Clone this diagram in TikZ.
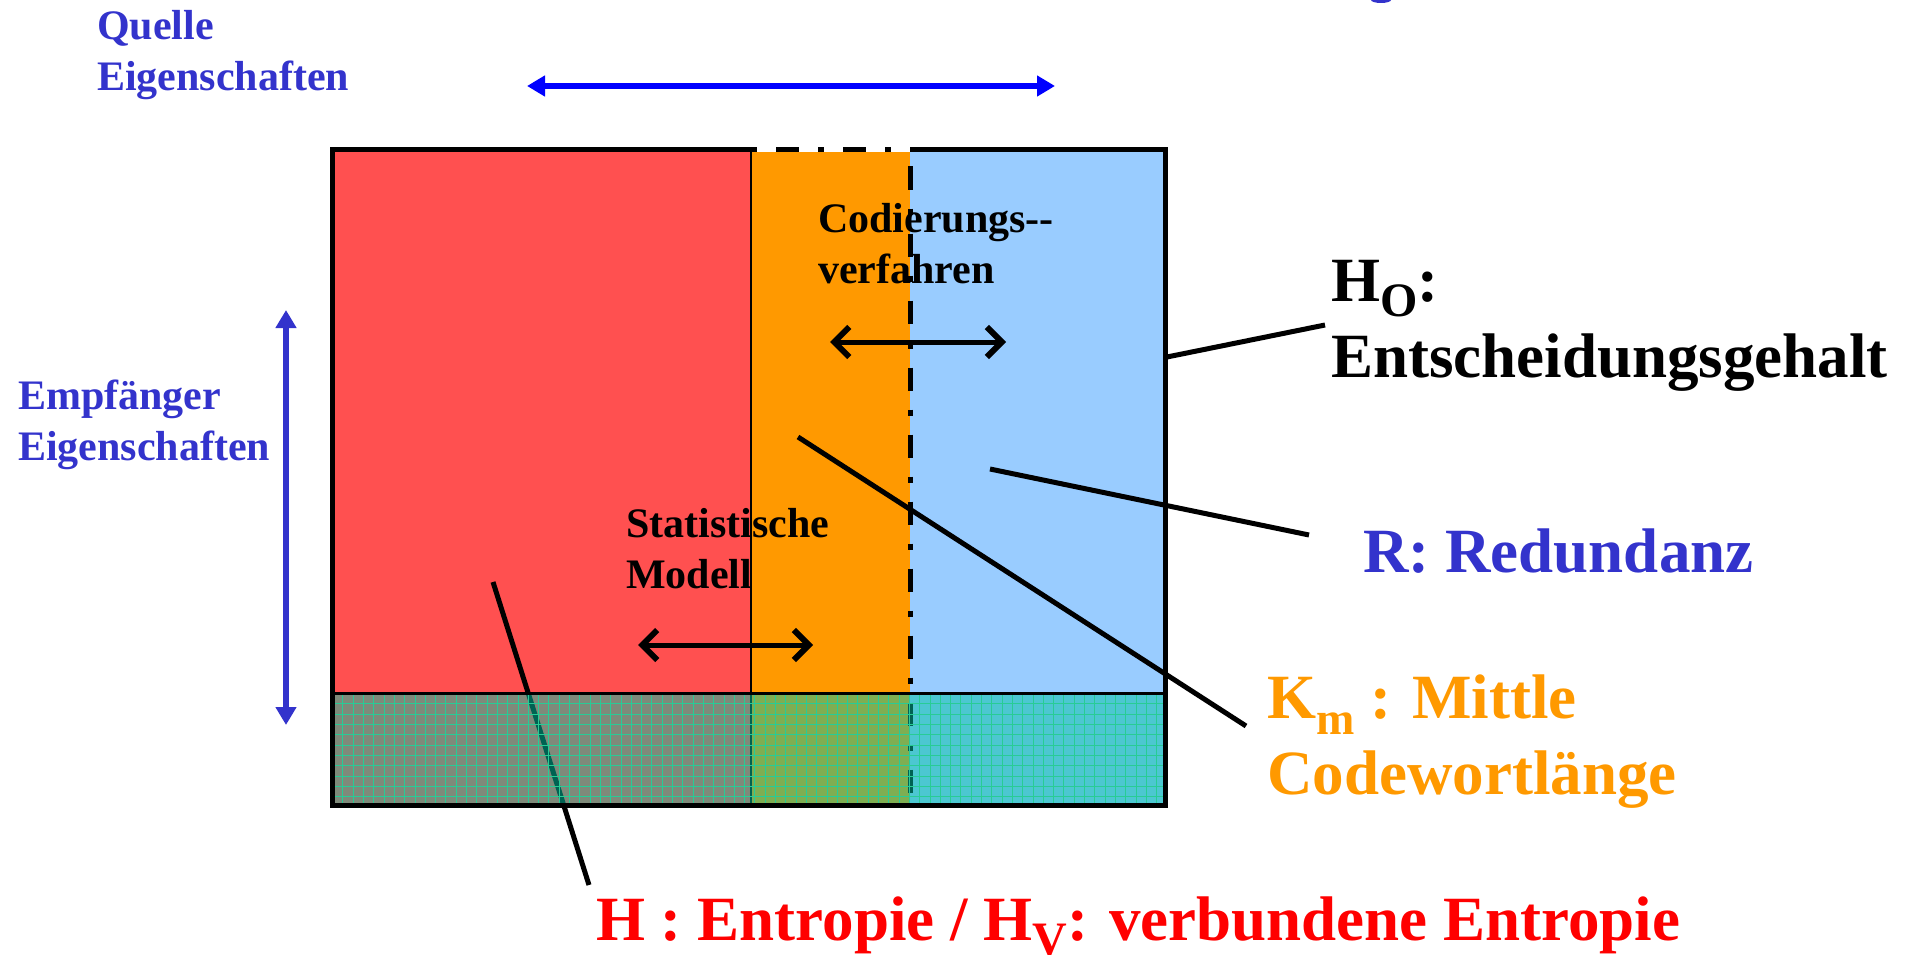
\documentclass[tikz,border=0pt]{standalone}
\usepackage{fontspec}
\setmainfont{Liberation Serif}
\usetikzlibrary{arrows.meta}
\definecolor{cred}{RGB}{255,80,80}
\definecolor{corange}{RGB}{255,153,0}
\definecolor{cblue}{RGB}{153,204,255}
\definecolor{cteal}{RGB}{0,196,165}
\definecolor{cgrid}{RGB}{40,204,150}
\definecolor{lblue}{RGB}{51,51,204}
\definecolor{pblue}{RGB}{0,0,255}
\definecolor{tred}{RGB}{255,0,0}
\definecolor{torange}{RGB}{255,153,0}
\begin{document}
\begin{tikzpicture}[x=1pt,y=-1pt,
  smalltext/.style={font=\fontsize{42}{51}\selectfont\bfseries, inner sep=0pt, anchor=base west, align=left},
  bigtext/.style={font=\fontsize{63}{76}\selectfont\bfseries, inner sep=0pt, anchor=base west, align=left},
  pointer/.style={line width=5pt, black},
  dblarrow/.style={line width=5pt, black, {Straight Barb[length=15pt,width=30pt,line width=6pt]}-{Straight Barb[length=15pt,width=30pt,line width=6pt]}},
  bluearrow/.style={line width=5.5pt, {Triangle[length=18pt,width=20pt]}-{Triangle[length=18pt,width=20pt]}},
  gridline/.style={cgrid, line width=0.8pt},
  dashdot/.style={line width=5pt, black, dash pattern=on 6pt off 19pt on 23pt off 19pt, dash phase=8pt}
]
\useasboundingbox (0,0) rectangle (1917,955);
% tiny cut-off glyph at top edge
\fill[lblue] (1381,0) ellipse (10 and 3);

% coloured areas
\fill[cred] (332.5,149.5) rectangle (751,805);
\fill[corange] (751,149.5) rectangle (910,805);
\fill[cblue] (910,149.5) rectangle (1165,805);

% dividers
\draw[line width=2.5pt] (751,149.5) -- (751,805);
\draw[dashdot] (910,149.5) -- (910,805);

% H pointer (runs under band overlay)
\coordinate (hA) at (493,582);
\coordinate (hB) at (589,885);
\draw[pointer] (hA) -- (hB);

% band overlay with grid
\fill[cteal, opacity=0.5] (332.5,693.5) rectangle (1165,805);
\begin{scope}
\clip (332.5,693.5) rectangle (1165,805);
\foreach \i in {1,...,81} \draw[gridline] ({332.5+10.3*\i},693.5) -- ++(0,112);
\foreach \j in {1,...,10} \draw[gridline] (332.5,{693.5+10.3*\j}) -- (1165,{693.5+10.3*\j});
\end{scope}

% frame
\draw[line width=5pt] (751,149.5) -- (332.5,149.5) -- (332.5,805) -- (1165,805) -- (1165,149.5) -- (910,149.5);
\draw[line width=5pt, white] (751,149.5) -- (910,149.5);
\draw[dashdot, dash phase=0pt] (751,149.5) -- (910,149.5);
\draw[line width=3.5pt] (332.5,693.5) -- (1165,693.5);

% blue arrows
\coordinate (qa) at (527,86);
\coordinate (qb) at (1055,86);
\draw[bluearrow, pblue] (qa) -- (qb);
\coordinate (ea) at (286,310);
\coordinate (eb) at (286,725);
\draw[bluearrow, lblue] (ea) -- (eb);

% black double arrows
\coordinate (ca) at (830,342);
\coordinate (cb) at (1006,342);
\draw[dblarrow] (ca) -- (cb);
\coordinate (sa) at (638,645);
\coordinate (sb) at (813,645);
\draw[dblarrow] (sa) -- (sb);

% pointers
\coordinate (hoA) at (1167,357);
\coordinate (hoB) at (1325,325);
\draw[pointer] (hoA) -- (hoB);
\coordinate (rA) at (990,469);
\coordinate (rB) at (1309,535);
\draw[pointer] (rA) -- (rB);
\coordinate (kA) at (798,437);
\coordinate (kB) at (1246,726);
\draw[pointer] (kA) -- (kB);

% texts (multi-line nodes are placed at the baseline of their last line)
\node[smalltext, text=lblue] (quelle) at (97,91) {Quelle\\Eigenschaften};
\node[smalltext, text=lblue] (empf) at (18,460) {Empfänger\\Eigenschaften};
\node[smalltext] (cod) at (818,283) {Codierungs\hbox{-}\hbox{-}\\verfahren};
\node[smalltext] (stat) at (626,588) {Statistische\\Modell};
\node[bigtext] (ho) at (1331,377) {H\raisebox{-15pt}{\fontsize{48}{48}\selectfont O}:\\Entscheidungsgehalt};
\node[bigtext, text=lblue] (redund) at (1363,572) {R: Redundanz};
\node[bigtext, text=torange] (km) at (1267,794) {K\raisebox{-16pt}{\fontsize{46}{46}\selectfont m} : Mittle\\Codewortlänge};
\node[bigtext, text=tred] (ent) at (596,940) {H : Entropie / H\raisebox{-15pt}{\fontsize{48}{48}\selectfont V}: verbundene Entropie};
\end{tikzpicture}
\end{document}
